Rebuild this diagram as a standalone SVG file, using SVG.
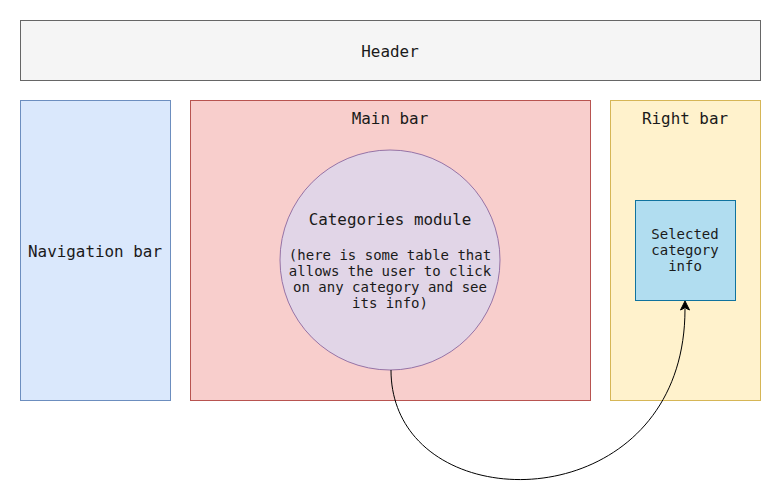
<svg xmlns="http://www.w3.org/2000/svg" width="782" height="501" viewBox="0 0 782 501">
<style>
text{font-family:"DejaVu Sans Mono","Liberation Mono",monospace;fill:#1a1a1a;text-anchor:middle;dominant-baseline:central}
.b{font-size:15.9px}
.s{font-size:14px}
</style>
<rect width="782" height="501" fill="#ffffff"/>
<g id="header"><rect x="20.5" y="20.5" width="740" height="60" fill="#f5f5f5" stroke="#666666"/><text class="b" x="390" y="51">Header</text></g>
<g id="nav"><rect x="20.5" y="100.5" width="150" height="300" fill="#dae8fc" stroke="#6c8ebf"/><text class="b" x="95" y="251">Navigation bar</text></g>
<g id="main"><rect x="190.5" y="100.5" width="400" height="300" fill="#f8cecc" stroke="#b85450"/><text class="b" x="390" y="118">Main bar</text></g>
<g id="right"><rect x="610.5" y="100.5" width="150" height="300" fill="#fff2cc" stroke="#d6b656"/><text class="b" x="685" y="118">Right bar</text></g>
<g id="categories"><circle cx="390" cy="260" r="110" fill="#e1d5e7" stroke="#9673a6"/>
<text class="b" x="390" y="219">Categories module</text>
<text class="s" x="390" y="255">(here is some table that</text>
<text class="s" x="390" y="271">allows the user to click</text>
<text class="s" x="390" y="287">on any category and see</text>
<text class="s" x="390" y="303">its info)</text></g>
<g id="selected"><rect x="635.5" y="200.5" width="100" height="100" fill="#b1ddf0" stroke="#10739e"/>
<text class="s" x="685" y="234">Selected</text>
<text class="s" x="685" y="250">category</text>
<text class="s" x="685" y="266">info</text></g>
<g id="connectors">
<path d="M391,370 C391,525 685,525 685,309" fill="none" stroke="#000" stroke-width="1"/>
<path d="M685,301 L689.5,310 L685,307.8 L680.5,310 Z" fill="#000" stroke="#000" stroke-width="1"/>
</g>
</svg>
